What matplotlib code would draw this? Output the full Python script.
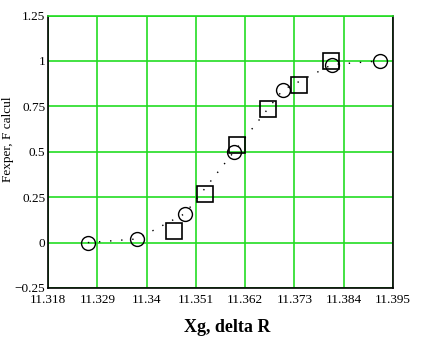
import matplotlib
matplotlib.use('Agg')
import matplotlib.pyplot as plt

# calculated values (circles, joined by dotted line)
x_calc = [11.3269, 11.3379, 11.3486, 11.3595, 11.3704, 11.3814, 11.3921]
f_calc = [0.0, 0.02, 0.16, 0.50, 0.84, 0.98, 1.0]

# experimental values (squares)
x_exp = [11.3461, 11.3530, 11.3602, 11.3671, 11.3740, 11.3812]
f_exp = [0.066, 0.265, 0.535, 0.734, 0.866, 1.0]

x_ticks = [11.318, 11.329, 11.34, 11.351, 11.362, 11.373, 11.384, 11.395]
y_ticks = [-0.25, 0, 0.25, 0.5, 0.75, 1, 1.25]
y_labels = ['\u22120.25', '0', '0.25', '0.5', '0.75', '1', '1.25']

plt.rcParams['font.family'] = ['Liberation Serif', 'DejaVu Serif']

fig = plt.figure(figsize=(4.38, 3.49), dpi=100)
ax = fig.add_axes([48 / 438, 1 - 288 / 349, 345 / 438, 272.5 / 349])

grid_green = '#22dd22'
ax.plot(x_calc, f_calc, color='black', linestyle=(0, (1, 7)), linewidth=1,
        marker='o', markersize=10, markerfacecolor='none',
        markeredgecolor='black', markeredgewidth=1, zorder=3)
ax.plot(x_exp, f_exp, linestyle='none', marker='s', markersize=12,
        markerfacecolor='none', markeredgecolor='black',
        markeredgewidth=1.2, zorder=3)

ax.set_xlim(11.318, 11.395)
ax.set_ylim(-0.25, 1.25)
ax.set_xticks(x_ticks)
ax.set_xticklabels([str(v) for v in x_ticks])
ax.set_yticks(y_ticks)
ax.set_yticklabels(y_labels)
ax.tick_params(length=0, labelsize=9.5)
ax.tick_params(axis='x', pad=4)
ax.tick_params(axis='y', pad=2)
ax.grid(True, color=grid_green, linewidth=1.2)
ax.set_axisbelow(True)

for side in ['left', 'bottom', 'right']:
    ax.spines[side].set_color('black')
    ax.spines[side].set_linewidth(1.2)
ax.spines['top'].set_color(grid_green)
ax.spines['top'].set_linewidth(1.2)

ax.set_xlabel('Xg, delta R', fontsize=13, fontweight='bold')
ax.xaxis.set_label_coords(0.52, -0.115)
fig.text(8 / 438, 1 - 139 / 349, 'Fexper, F calcul', fontsize=9.5,
         rotation=90, ha='center', va='center')

fig.savefig('out.png', dpi=100)
